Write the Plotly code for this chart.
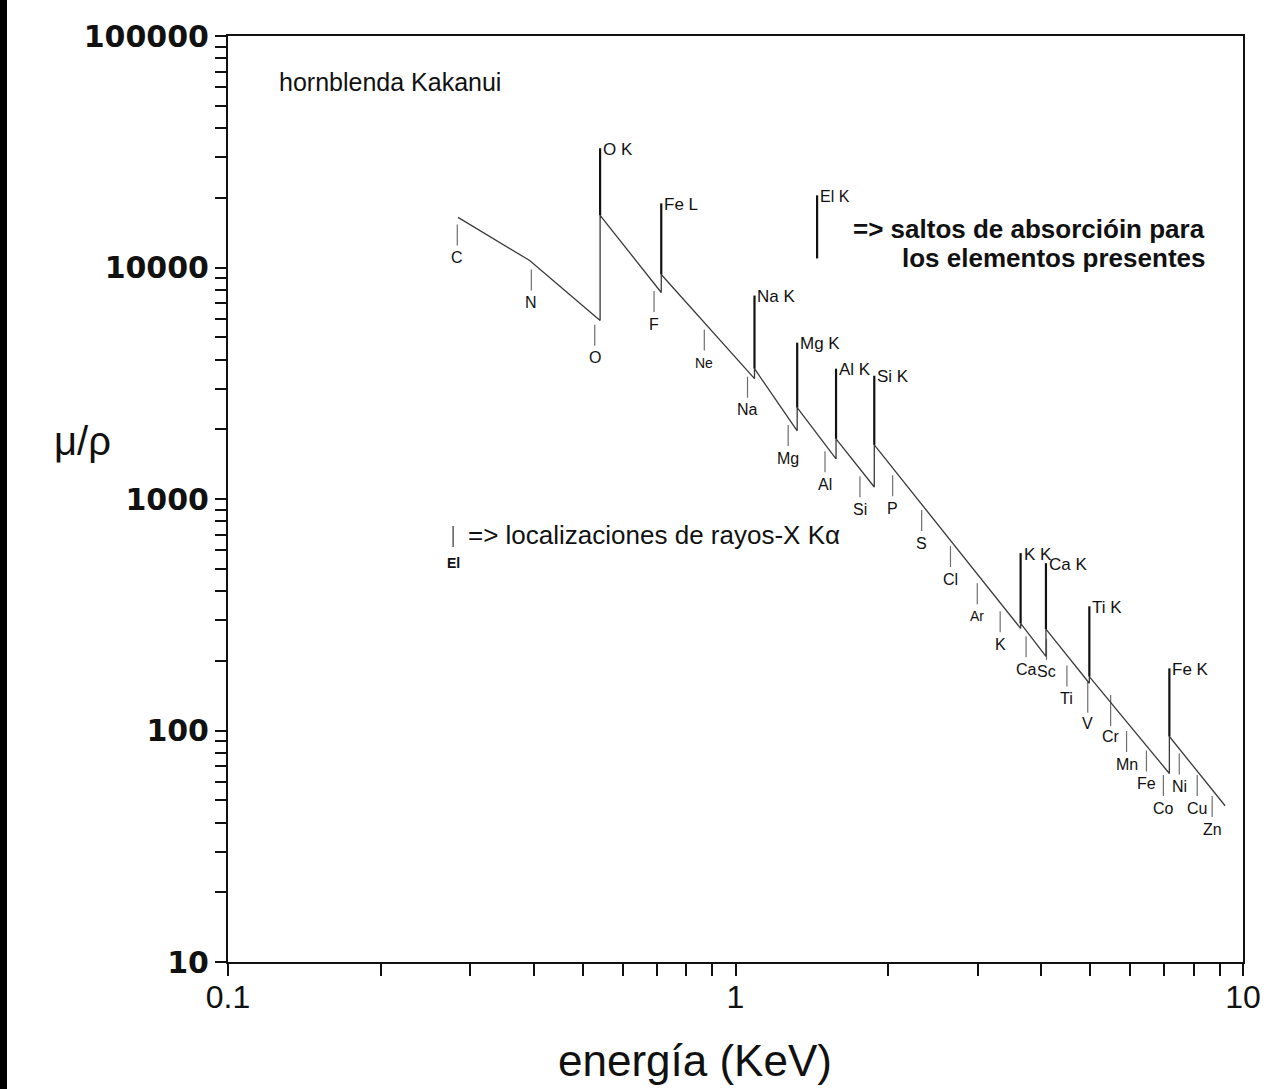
import math
import plotly.graph_objects as go

# Mass absorption curve (mu/rho) of the Kakanui hornblende; repeated
# energies mark the vertical jumps at the absorption edges.
curve_energy = [0.284, 0.393, 0.541, 0.541, 0.714, 0.714, 1.09, 1.09,
                1.323, 1.323, 1.578, 1.578, 1.877, 1.877, 3.646, 3.646,
                4.09, 4.09, 4.98, 4.98, 7.16, 7.16, 9.22]
curve_mu = [16470, 10720, 5900, 16800, 7800, 9330, 3310, 3655,
            1970, 2480, 1490, 1820, 1127, 1713, 276, 290,
            209, 274, 160, 171, 65.2, 94.2, 47.3]

# Absorption edges of the elements present and the top of each edge bar
edge_labels = ["O K", "Fe L", "Na K", "Mg K", "Al K", "Si K",
               "K K", "Ca K", "Ti K", "Fe K"]
edge_energy = [0.541, 0.714, 1.09, 1.323, 1.578, 1.877, 3.646, 4.09, 4.98, 7.16]
edge_top = [32750, 18930, 7565, 4735, 3655, 3408, 584, 528, 344, 185.5]

# K-alpha line positions, with the level of each short marker
kalpha_labels = ["C", "N", "O", "F", "Ne", "Na", "Mg", "Al", "Si", "P",
                 "S", "Cl", "Ar", "K", "Ca", "Sc", "Ti", "V", "Cr", "Mn",
                 "Fe", "Co", "Ni", "Cu", "Zn"]
kalpha_energy = [0.283, 0.396, 0.528, 0.691, 0.868, 1.056, 1.270, 1.501,
                 1.759, 2.040, 2.327, 2.652, 2.995, 3.323, 3.737, 4.10,
                 4.498, 4.944, 5.485, 5.896, 6.453, 6.968, 7.489, 8.124, 8.694]
kalpha_level = [13820, 8830, 5100, 7130, 4860, 3040, 1880, 1450, 1130, 1140,
                807, 564, 390, 295, 230, 224, 172, 139, 122, 89.6,
                73.8, 57.8, 71.6, 57.8, 46.9]

x_ticks = [0.1, 1, 10]
x_ticktext = ["0.1", "1", "10"]
y_ticks = [10, 100, 1000, 10000, 100000]
y_ticktext = ["10", "100", "1000", "10000", "100000"]

# ---- page geometry ----
W, H = 1281, 1089
ML, MR, MT, MB = 228, 38, 36, 127
FONT = "Liberation Sans, Arial, Helvetica, sans-serif"
INK = "#111111"


def paper_x(p):
    return (p - ML) / (W - ML - MR)


def paper_y(p):
    return (H - MB - p) / (H - MT - MB)


fig = go.Figure()

# absorption curve
fig.add_trace(go.Scatter(
    x=curve_energy, y=curve_mu, mode="lines",
    line=dict(color="#3a3a3a", width=1.3), hoverinfo="skip"))

# edge bars: from the top of each jump up to the label
bx, by = [], []
for e, top in zip(edge_energy, edge_top):
    base = max(m for en, m in zip(curve_energy, curve_mu) if en == e)
    bx += [e, e, None]
    by += [base, top, None]
fig.add_trace(go.Scatter(x=bx, y=by, mode="lines",
                         line=dict(color=INK, width=2.2), hoverinfo="skip"))

# short K-alpha markers
long_ticks = {"V": 22, "Cr": 22}
tick_len = [long_ticks.get(lbl, 15) for lbl in kalpha_labels]
fig.add_trace(go.Scatter(
    x=kalpha_energy, y=kalpha_level, mode="markers",
    marker=dict(symbol="line-ns", size=tick_len,
                line=dict(color="#333333", width=1.2)),
    hoverinfo="skip"))

annotations = []
for lbl, e, top in zip(edge_labels, edge_energy, edge_top):
    annotations.append(dict(
        x=math.log10(e), y=math.log10(top), xref="x", yref="y",
        text=lbl, showarrow=False, xanchor="left", yanchor="middle",
        xshift=1, yshift=-1, font=dict(family=FONT, size=17, color=INK)))

small_labels = {"Ne", "Ar"}
for lbl, e, lv, tl in zip(kalpha_labels, kalpha_energy, kalpha_level, tick_len):
    annotations.append(dict(
        x=math.log10(e), y=math.log10(lv), xref="x", yref="y",
        text=lbl, showarrow=False, xanchor="center", yanchor="middle",
        yshift=-(tl / 2 + 15),
        font=dict(family=FONT, size=14 if lbl in small_labels else 16,
                  color=INK)))

# explanatory key: edge bar
key_e = 10 ** ((815 - 733) / 510)
fig.add_trace(go.Scatter(x=[key_e, key_e], y=[10940, 20500], mode="lines",
                         line=dict(color=INK, width=2.2), hoverinfo="skip"))
annotations.append(dict(
    x=math.log10(key_e), y=math.log10(20500), xref="x", yref="y",
    text="El K", showarrow=False, xanchor="left", yanchor="middle",
    xshift=1, yshift=-1, font=dict(family=FONT, size=16, color=INK)))
annotations.append(dict(
    x=paper_x(1207), y=paper_y(229), xref="paper", yref="paper",
    text="=> saltos de absorcióin para", showarrow=False,
    xanchor="right", yanchor="middle",
    font=dict(family=FONT, size=26, color=INK, weight="bold")))
annotations.append(dict(
    x=paper_x(1207), y=paper_y(258), xref="paper", yref="paper",
    text="los elementos presentes", showarrow=False,
    xanchor="right", yanchor="middle",
    font=dict(family=FONT, size=26, color=INK, weight="bold")))

# explanatory key: K-alpha marker
key_k = 10 ** ((452 - 733) / 505)
fig.add_trace(go.Scatter(
    x=[key_k], y=[688], mode="markers",
    marker=dict(symbol="line-ns", size=15, line=dict(color="#333333", width=1.2)),
    hoverinfo="skip"))
annotations.append(dict(
    x=math.log10(key_k), y=math.log10(688), xref="x", yref="y",
    text="El", showarrow=False, xanchor="center", yanchor="middle",
    yshift=-26, font=dict(family=FONT, size=14, color=INK, weight="bold")))
annotations.append(dict(
    x=paper_x(466), y=paper_y(535), xref="paper", yref="paper",
    text="=> localizaciones de rayos-X Kα", showarrow=False,
    xanchor="left", yanchor="middle",
    font=dict(family=FONT, size=26, color=INK)))

# sample name
annotations.append(dict(
    x=paper_x(277), y=paper_y(82), xref="paper", yref="paper",
    text="hornblenda Kakanui", showarrow=False,
    xanchor="left", yanchor="middle",
    font=dict(family=FONT, size=25, color=INK)))

# axis titles
annotations.append(dict(
    x=paper_x(82), y=paper_y(441), xref="paper", yref="paper",
    text="μ/ρ", showarrow=False, xanchor="center", yanchor="middle",
    font=dict(family=FONT, size=40, color=INK)))
annotations.append(dict(
    x=paper_x(695), y=paper_y(1060), xref="paper", yref="paper",
    text="energía (KeV)", showarrow=False, xanchor="center", yanchor="middle",
    font=dict(family=FONT, size=44, color=INK)))

x_minor = [m * d for d in (0.1, 1) for m in range(2, 10)]
y_minor = [m * d for d in (10, 100, 1000, 10000) for m in range(2, 10)]

fig.update_layout(
    width=W, height=H,
    margin=dict(l=ML, r=MR, t=MT, b=MB, pad=0),
    paper_bgcolor="white", plot_bgcolor="white",
    showlegend=False,
    annotations=annotations,
    shapes=[dict(type="rect", xref="paper", yref="paper",
                 x0=paper_x(0), x1=paper_x(7), y0=paper_y(H), y1=paper_y(0),
                 fillcolor="black", line=dict(width=0), layer="above")],
    xaxis=dict(
        type="log", range=[-1, 1],
        tickvals=x_ticks, ticktext=x_ticktext,
        ticks="outside", ticklen=12, tickwidth=2, tickcolor=INK,
        ticklabelstandoff=-6,
        minor=dict(tickvals=x_minor, ticks="outside", ticklen=12,
                   tickwidth=2, tickcolor=INK, showgrid=False),
        tickfont=dict(family=FONT, size=32, color=INK),
        showline=True, linecolor=INK, linewidth=2, mirror=True,
        showgrid=False, zeroline=False),
    yaxis=dict(
        type="log", range=[1, 5],
        tickvals=y_ticks, ticktext=y_ticktext,
        ticks="outside", ticklen=11, tickwidth=2, tickcolor=INK,
        minor=dict(tickvals=y_minor, ticks="outside", ticklen=11,
                   tickwidth=2, tickcolor=INK, showgrid=False),
        tickfont=dict(family="DejaVu Sans, sans-serif", size=30,
                      color=INK, weight="bold"),
        showline=True, linecolor=INK, linewidth=2, mirror=True,
        showgrid=False, zeroline=False),
)

fig.write_html("out.html")
